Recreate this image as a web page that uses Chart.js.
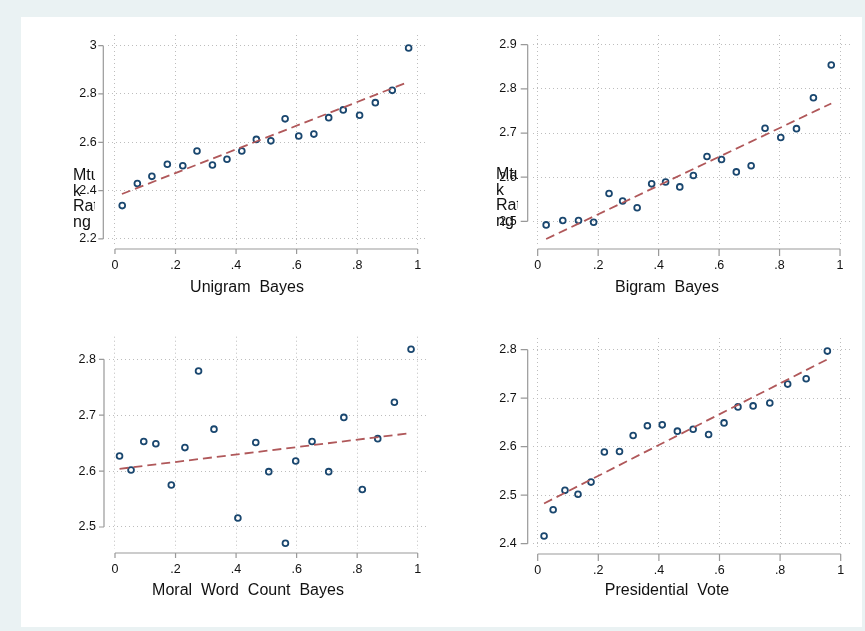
<!DOCTYPE html>
<html>
<head>
<meta charset="utf-8">
<script src="https://cdn.jsdelivr.net/npm/chart.js@4.4.1/dist/chart.umd.min.js"></script>
<style>
  body { margin: 0; width: 865px; height: 631px; overflow: hidden; position: relative;
         background: #eaf2f3; font-family: "Liberation Sans", Arial, sans-serif; }
  #paper { position: absolute; left: 21px; top: 17px; width: 841px; height: 610px; background: #fff; }
  canvas { position: absolute; left: 0; top: 0; }
  .xt { position: absolute; font-size: 16px; line-height: 18px; color: #111; white-space: pre;
        transform: translateX(-50%); }
  .yt { position: absolute; width: 22px; overflow: hidden; font-size: 16px; line-height: 15.7px;
        color: #111; white-space: pre; }
</style>
</head>
<body>
<div id="paper"></div>
<canvas id="c1" width="865" height="631"></canvas>
<canvas id="c2" width="865" height="631"></canvas>
<canvas id="c3" width="865" height="631"></canvas>
<canvas id="c4" width="865" height="631"></canvas>

<div class="yt" style="left:73px;top:167px">Mtur
k
Rati
ng</div>
<div class="yt" style="left:496px;top:166px">Mtur
k
Rati
ng</div>
<div class="xt" style="left:247px;top:278px">Unigram  Bayes</div>
<div class="xt" style="left:667px;top:278px">Bigram  Bayes</div>
<div class="xt" style="left:248px;top:581px">Moral  Word  Count  Bayes</div>
<div class="xt" style="left:667px;top:581px">Presidential  Vote</div>

<script>
// x tick values / labels shared by all panels
const xTicks = [0, 0.2, 0.4, 0.6, 0.8, 1];
const xTickLabels = ['0', '.2', '.4', '.6', '.8', '1'];

// Unigram Bayes
const unigramX = [0.024, 0.074, 0.122, 0.173, 0.224, 0.271, 0.322, 0.370, 0.419, 0.467,
                  0.515, 0.562, 0.607, 0.657, 0.706, 0.754, 0.808, 0.860, 0.916, 0.970];
const unigramY = [2.338, 2.429, 2.459, 2.509, 2.503, 2.564, 2.506, 2.530, 2.564, 2.612,
                  2.606, 2.697, 2.626, 2.634, 2.702, 2.734, 2.712, 2.764, 2.815, 2.990];
const unigramFitX = [0.023, 0.970];
const unigramFitY = [2.386, 2.850];
const unigramTicks = [2.2, 2.4, 2.6, 2.8, 3];
const unigramTickLabels = ['2.2', '2.4', '2.6', '2.8', '3'];

// Bigram Bayes
const bigramX = [0.028, 0.083, 0.135, 0.185, 0.236, 0.281, 0.329, 0.377, 0.423, 0.470,
                 0.515, 0.560, 0.608, 0.657, 0.706, 0.752, 0.804, 0.856, 0.912, 0.971];
const bigramY = [2.492, 2.502, 2.502, 2.498, 2.563, 2.546, 2.531, 2.585, 2.589, 2.578,
                 2.604, 2.647, 2.640, 2.612, 2.626, 2.711, 2.690, 2.710, 2.780, 2.854];
const bigramFitX = [0.028, 0.971];
const bigramFitY = [2.460, 2.767];
const bigramTicks = [2.5, 2.6, 2.7, 2.8, 2.9];
const bigramTickLabels = ['2.5', '2.6', '2.7', '2.8', '2.9'];

// Moral Word Count Bayes
const moralX = [0.015, 0.053, 0.095, 0.135, 0.186, 0.231, 0.276, 0.327, 0.406, 0.465,
                0.508, 0.563, 0.597, 0.651, 0.706, 0.756, 0.817, 0.868, 0.923, 0.978];
const moralY = [2.627, 2.602, 2.653, 2.649, 2.575, 2.642, 2.779, 2.675, 2.516, 2.651,
                2.599, 2.471, 2.618, 2.653, 2.599, 2.696, 2.567, 2.658, 2.723, 2.818];
const moralFitX = [0.015, 0.978];
const moralFitY = [2.604, 2.668];
const moralTicks = [2.5, 2.6, 2.7, 2.8];
const moralTickLabels = ['2.5', '2.6', '2.7', '2.8'];

// Presidential Vote
const voteX = [0.021, 0.051, 0.090, 0.133, 0.176, 0.220, 0.270, 0.315, 0.362, 0.411,
               0.461, 0.513, 0.564, 0.615, 0.661, 0.711, 0.766, 0.825, 0.886, 0.956];
const voteY = [2.416, 2.470, 2.510, 2.502, 2.527, 2.589, 2.590, 2.623, 2.643, 2.645,
               2.632, 2.636, 2.625, 2.649, 2.682, 2.684, 2.690, 2.729, 2.740, 2.797];
const voteFitX = [0.021, 0.956];
const voteFitY = [2.483, 2.780];
const voteTicks = [2.4, 2.5, 2.6, 2.7, 2.8];
const voteTickLabels = ['2.4', '2.5', '2.6', '2.7', '2.8'];

const W = 865, H = 631;

// axis lines + tick marks, drawn only over the labelled range (Stata style)
const axisLines = {
  id: 'axisLines',
  afterDraw(chart, args, o) {
    const { ctx, chartArea: a, scales: { x, y } } = chart;
    const ax = a.left - 5, ay = a.bottom + 4;
    ctx.save();
    ctx.strokeStyle = '#999';
    ctx.lineWidth = 1.2;
    ctx.beginPath();
    ctx.moveTo(ax, y.getPixelForValue(o.yTicks[0]));
    ctx.lineTo(ax, y.getPixelForValue(o.yTicks[o.yTicks.length - 1]));
    o.yTicks.forEach(v => {
      const py = y.getPixelForValue(v);
      ctx.moveTo(ax, py); ctx.lineTo(ax - o.len, py);
    });
    ctx.moveTo(x.getPixelForValue(xTicks[0]), ay);
    ctx.lineTo(x.getPixelForValue(xTicks[xTicks.length - 1]), ay);
    xTicks.forEach(v => {
      const px = x.getPixelForValue(v);
      ctx.moveTo(px, ay); ctx.lineTo(px, ay + o.len);
    });
    ctx.stroke();
    ctx.restore();
  }
};

function makePanel(id, xs, ys, fx, fy, yTicks, yLabels, p) {
  const pts = xs.map((v, i) => ({ x: v, y: ys[i] }));
  const fit = fx.map((v, i) => ({ x: v, y: fy[i] }));
  const font = { family: 'Liberation Sans', size: 12.5 };
  new Chart(document.getElementById(id), {
    type: 'scatter',
    data: {
      datasets: [{
        type: 'line',
        data: fit,
        borderColor: '#b0585a',
        borderWidth: 1.8,
        borderDash: [9, 5],
        pointRadius: 0,
        fill: false
      }, {
        data: pts,
        pointRadius: 2.9,
        borderWidth: 1.8,
        borderColor: '#1a476f',
        backgroundColor: 'rgba(0,0,0,0)'
      }]
    },
    plugins: [axisLines],
    options: {
      responsive: false,
      animation: false,
      events: [],
      layout: { padding: { left: 0, top: p.top, right: W - p.right, bottom: H - p.bottom - 60 } },
      plugins: {
        legend: { display: false },
        tooltip: { enabled: false },
        axisLines: { yTicks: yTicks, len: p.len }
      },
      scales: {
        x: {
          type: 'linear', min: p.xMin, max: p.xMax,
          afterBuildTicks: s => { s.ticks = xTicks.map(v => ({ value: v })); },
          afterFit: s => { s.height = 60; },
          grid: { color: '#bdbdbd', lineWidth: 1, drawTicks: false },
          border: { display: false, dash: [1, 3] },
          ticks: { font: font, color: '#111', padding: 13, maxRotation: 0,
                   callback: (v, i) => xTickLabels[i] }
        },
        y: {
          type: 'linear', min: p.yMin, max: p.yMax,
          afterBuildTicks: s => { s.ticks = yTicks.map(v => ({ value: v })); },
          afterFit: s => { s.width = p.left; },
          grid: { color: '#bdbdbd', lineWidth: 1, drawTicks: false },
          border: { display: false, dash: [1, 3] },
          ticks: { font: font, color: '#111', padding: p.pad,
                   callback: (v, i) => yLabels[i] }
        }
      }
    }
  });
}

makePanel('c1', unigramX, unigramY, unigramFitX, unigramFitY, unigramTicks, unigramTickLabels,
  { left: 108.3, right: 428, top: 35, bottom: 245, xMin: -0.022, xMax: 1.034,
    yMin: 2.175, yMax: 3.044, pad: 11.6, len: 5 });
makePanel('c2', bigramX, bigramY, bigramFitX, bigramFitY, bigramTicks, bigramTickLabels,
  { left: 532.7, right: 850, top: 35, bottom: 245, xMin: -0.0165, xMax: 1.033,
    yMin: 2.4465, yMax: 2.922, pad: 16, len: 7 });
makePanel('c3', moralX, moralY, moralFitX, moralFitY, moralTicks, moralTickLabels,
  { left: 109, right: 428, top: 336.7, bottom: 549, xMin: -0.0198, xMax: 1.034,
    yMin: 2.4606, yMax: 2.8404, pad: 13, len: 5 });
makePanel('c4', voteX, voteY, voteFitX, voteFitY, voteTicks, voteTickLabels,
  { left: 532.7, right: 850, top: 338, bottom: 550, xMin: -0.0165, xMax: 1.0307,
    yMin: 2.387, yMax: 2.824, pad: 16, len: 7 });
</script>
</body>
</html>
